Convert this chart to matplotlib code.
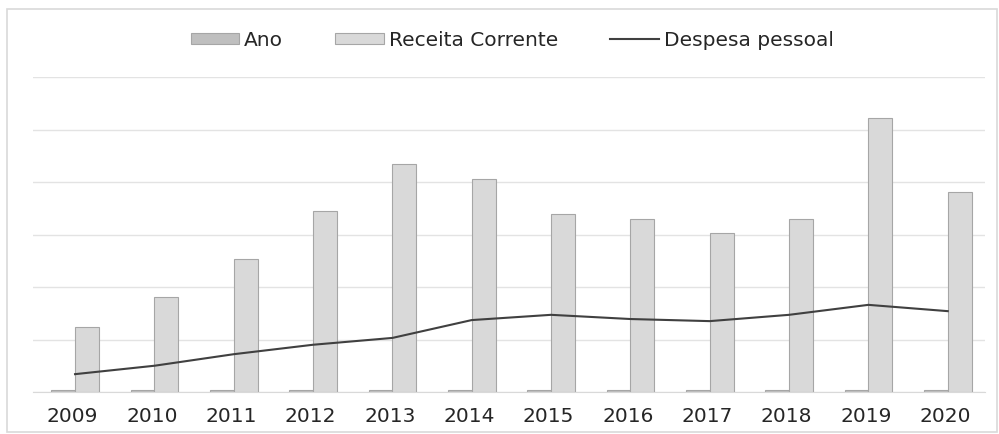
import numpy as np
import matplotlib.pyplot as plt
from matplotlib.patches import Rectangle

plt.rcParams['font.family'] = ['DejaVu Sans']

anos = [2009, 2010, 2011, 2012, 2013, 2014, 2015, 2016, 2017, 2018, 2019, 2020]
receita_corrente = [62000, 90500, 126500, 172500, 217000, 203000,
                    169500, 165000, 151500, 165000, 261000, 190500]
despesa_pessoal = [17000, 25000, 36000, 45000, 51500, 68500,
                   73500, 69500, 67500, 73500, 83000, 77000]

x = np.arange(len(anos))
w = 0.3

fig = plt.figure(figsize=(9.99, 4.34), dpi=100)
fig.patches.append(Rectangle((7 / 999, 0.005), 990 / 999, (434 - 9) / 434 - 0.005,
                             transform=fig.transFigure, fill=False,
                             edgecolor='#d9d9d9', linewidth=1.2))

ax = fig.add_axes([33 / 999, 42 / 434, 952 / 999, 315 / 434])
b1 = ax.bar(x - 0.12, anos, width=w, color='#bfbfbf', edgecolor='#a6a6a6',
            linewidth=0.8, label='Ano', zorder=2)
b2 = ax.bar(x + 0.18, receita_corrente, width=w, color='#d9d9d9', edgecolor='#a6a6a6',
            linewidth=0.8, label='Receita Corrente', zorder=2)
l1, = ax.plot(x + 0.03, despesa_pessoal, color='#404040', linewidth=1.5,
              label='Despesa pessoal', zorder=3)

ax.set_xlim(-0.5, len(anos) - 0.5)
ax.set_ylim(0, 300000)
ax.set_yticks(np.arange(0, 300001, 50000))
ax.yaxis.grid(True, color='#e3e3e3', linewidth=1)
ax.set_axisbelow(True)
ax.set_xticks(x)
ax.set_xticklabels(anos, fontsize=14.5, color='#262626')
ax.tick_params(axis='x', length=0, pad=11)
ax.tick_params(axis='y', length=0, labelleft=False)
for side in ['top', 'right', 'left']:
    ax.spines[side].set_visible(False)
ax.spines['bottom'].set_color('#d9d9d9')

fig.legend(handles=[b1, b2, l1], loc='center', bbox_to_anchor=(512 / 999, 1 - 40 / 434),
           ncol=3, frameon=False, fontsize=14.5, labelcolor='#262626',
           handlelength=2.4, handleheight=0.5, handletextpad=0.25, columnspacing=2.6)

fig.savefig('out.png', dpi=100)
